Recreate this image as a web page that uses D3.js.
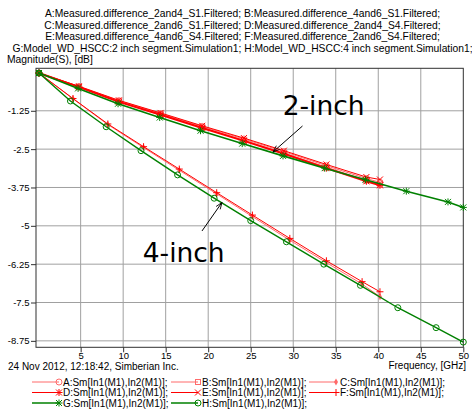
<!DOCTYPE html>
<html>
<head>
<meta charset="utf-8">
<script src="https://cdn.jsdelivr.net/npm/d3@7"></script>
<style>
  body { margin: 0; background: #fff; }
  svg { display: block; font-family: "Liberation Sans", Arial, sans-serif; }
</style>
</head>
<body>
<svg width="472" height="411"></svg>
<script>
const WIDTH = 472;
const HEIGHT = 411;
const PLOT = {left: 36, top: 68.3, right: 463.3, bottom: 347.3};

const titleLines = [
  'A:Measured.difference_2and4_S1.Filtered; B:Measured.difference_4and6_S1.Filtered;',
  'C:Measured.difference_2and6_S1.Filtered; D:Measured.difference_2and4_S4.Filtered;',
  'E:Measured.difference_4and6_S4.Filtered; F:Measured.difference_2and6_S4.Filtered;',
  'G:Model_WD_HSCC:2 inch segment.Simulation1; H:Model_WD_HSCC:4 inch segment.Simulation1;'
];
const yAxisTitle = 'Magnitude(S), [dB]';
const xAxisTitle = 'Frequency, [GHz]';
const stamp = '24 Nov 2012, 12:18:42, Simberian Inc.';

const xTicks = [5, 10, 15, 20, 25, 30, 35, 40, 45, 50];
const yTicks = [-1.25, -2.5, -3.75, -5, -6.25, -7.5, -8.75];
const yTickLabels = ['-1.25', '-2.5', '-3.75', '-5', '-6.25', '-7.5', '-8.75'];

// frequency points (GHz) where the curves carry markers
const freq2in = [0.1, 4.8, 9.5, 14.4, 19.3, 24.2, 28.9, 33.9, 38.6, 40.2];
const freq4in = [0.1, 4.1, 8.2, 12.4, 16.6, 21.0, 25.2, 29.6, 33.9, 38.1, 40.2];
const freqG = [0.1, 4.7, 9.4, 14.3, 19.1, 24.0, 28.8, 33.7, 38.5, 43.3, 48.2, 50];
const freqH = [0.1, 3.8, 8.0, 12.1, 16.4, 20.7, 25.0, 29.2, 33.6, 37.9, 42.3, 46.8, 50];

// magnitudes, dB
const dbA = [-0.02, -0.46, -0.92, -1.34, -1.76, -2.17, -2.58, -3.04, -3.46, -3.58];
const dbB = [-0.02, -0.47, -0.94, -1.36, -1.79, -2.21, -2.63, -3.09, -3.52, -3.66];
const dbC = [-0.02, -0.86, -1.70, -2.45, -3.19, -3.96, -4.70, -5.47, -6.20, -6.90, -7.31];
const dbD = [-0.02, -0.48, -0.96, -1.38, -1.81, -2.23, -2.65, -3.12, -3.55, -3.68];
const dbE = [-0.02, -0.45, -0.91, -1.32, -1.74, -2.14, -2.55, -3.00, -3.41, -3.49];
const dbF = [-0.02, -0.85, -1.68, -2.42, -3.15, -3.92, -4.65, -5.41, -6.14, -6.82, -7.15];
const dbG = [-0.02, -0.52, -1.02, -1.47, -1.90, -2.32, -2.72, -3.12, -3.50, -3.87, -4.22, -4.40];
const dbH = [-0.02, -0.93, -1.77, -2.55, -3.34, -4.10, -4.83, -5.52, -6.25, -6.94, -7.67, -8.32, -8.79];

const legendLabels = ['A', 'B', 'C', 'D', 'E', 'F', 'G', 'H'];
const legendText = 'Sm[In1(M1),In2(M1)];';

// annotations, in chart units [GHz, dB]
const notes = [
  {text: '2-inch', at: [28.76, -1.387], from: [31.09, -1.746], to: [27.62, -2.593]},
  {text: '4-inch', at: [12.30, -6.169], from: [19.27, -5.168], to: [21.62, -4.239]}
];

const LIGHT_RED = '#ff6a6a';
const RED = '#ff0000';
const GREEN = '#008000';

const series = [
  {name: 'A', freq: freq2in, db: dbA, color: LIGHT_RED, width: 1, marker: 'circle'},
  {name: 'B', freq: freq2in, db: dbB, color: LIGHT_RED, width: 1, marker: 'square'},
  {name: 'C', freq: freq4in, db: dbC, color: LIGHT_RED, width: 1, marker: 'diamond'},
  {name: 'D', freq: freq2in, db: dbD, color: RED, width: 2, marker: 'asterisk'},
  {name: 'E', freq: freq2in, db: dbE, color: RED, width: 1, marker: 'cross'},
  {name: 'F', freq: freq4in, db: dbF, color: RED, width: 1, marker: 'plus'},
  {name: 'G', freq: freqG, db: dbG, color: GREEN, width: 1.6, marker: 'asterisk'},
  {name: 'H', freq: freqH, db: dbH, color: GREEN, width: 1.4, marker: 'circle'}
];

const svg = d3.select('svg');

const x = d3.scaleLinear().domain([-0.25, 50]).range([PLOT.left, PLOT.right]);
const y = d3.scaleLinear().domain([0.135, -8.96]).range([PLOT.top, PLOT.bottom]);

// header
svg.append('g')
  .selectAll('text')
  .data(titleLines)
  .join('text')
    .attr('x', 242.5)
    .attr('y', (d, i) => 17 + i * 11.5)
    .attr('text-anchor', 'middle')
    .attr('font-size', 10.3)
    .text(d => d);

svg.append('text')
  .attr('x', 7)
  .attr('y', 63)
  .attr('font-size', 10.3)
  .text(yAxisTitle);

// grid
svg.append('g')
  .attr('stroke', '#a0a0a0')
  .selectAll('line')
  .data(xTicks.slice(0, -1))
  .join('line')
    .attr('x1', d => x(d)).attr('x2', d => x(d))
    .attr('y1', PLOT.top).attr('y2', PLOT.bottom);

svg.append('g')
  .attr('stroke', '#a0a0a0')
  .selectAll('line')
  .data(yTicks)
  .join('line')
    .attr('x1', PLOT.left).attr('x2', PLOT.right)
    .attr('y1', d => y(d)).attr('y2', d => y(d));

// axes
const xAxis = svg.append('g')
  .attr('transform', `translate(0,${PLOT.bottom})`)
  .call(d3.axisBottom(x).tickValues(xTicks).tickSize(5).tickPadding(0).tickFormat(d3.format('d')));
const yAxis = svg.append('g')
  .attr('transform', `translate(${PLOT.left},0)`)
  .call(d3.axisLeft(y).tickValues(yTicks).tickSize(5).tickPadding(1.5)
    .tickFormat((d, i) => yTickLabels[i]));

[xAxis, yAxis].forEach(a => {
  a.select('.domain').remove();
  a.selectAll('line').attr('stroke', '#303030');
  a.selectAll('text').attr('font-size', 9.5).attr('fill', '#000')
    .attr('font-family', '"Liberation Sans", Arial, sans-serif');
});

svg.append('rect')
  .attr('x', PLOT.left).attr('y', PLOT.top)
  .attr('width', PLOT.right - PLOT.left)
  .attr('height', PLOT.bottom - PLOT.top)
  .attr('fill', 'none')
  .attr('stroke', '#303030');

svg.append('text')
  .attr('x', 466)
  .attr('y', 369)
  .attr('text-anchor', 'end')
  .attr('font-size', 10)
  .text(xAxisTitle);

svg.append('text')
  .attr('x', 8)
  .attr('y', 370)
  .attr('font-size', 10)
  .text(stamp);

function drawMarker(g, type, color) {
  const s = 3;
  if (type === 'circle') {
    g.append('circle').attr('r', s).attr('fill', 'none').attr('stroke', color);
  } else if (type === 'square') {
    g.append('rect').attr('x', -2.5).attr('y', -2.5).attr('width', 5).attr('height', 5)
      .attr('fill', 'none').attr('stroke', color);
  } else if (type === 'diamond') {
    g.append('path').attr('d', d3.symbol(d3.symbolDiamond, 14)()).attr('fill', color);
  } else {
    let segs = [];
    if (type === 'plus' || type === 'asterisk') {
      segs.push([-s - 0.5, 0, s + 0.5, 0], [0, -s - 0.5, 0, s + 0.5]);
    }
    if (type === 'cross' || type === 'asterisk') {
      segs.push([-s, -s, s, s], [-s, s, s, -s]);
    }
    g.selectAll('line')
      .data(segs)
      .join('line')
        .attr('x1', d => d[0]).attr('y1', d => d[1])
        .attr('x2', d => d[2]).attr('y2', d => d[3])
        .attr('stroke', color)
        .attr('stroke-width', 1);
  }
}

// curves
const line = d3.line().x(d => x(d[0])).y(d => y(d[1]));
const plot = svg.append('g');

series.forEach(s => {
  const pts = s.freq.map((f, i) => [f, s.db[i]]);
  plot.append('path')
    .datum(pts)
    .attr('d', line)
    .attr('fill', 'none')
    .attr('stroke', s.color)
    .attr('stroke-width', s.width);
  pts.forEach(p => {
    const g = plot.append('g').attr('transform', `translate(${x(p[0])},${y(p[1])})`);
    drawMarker(g, s.marker, s.color);
  });
});

// annotations
const defs = svg.append('defs');
defs.append('marker')
  .attr('id', 'arrow')
  .attr('markerWidth', 10)
  .attr('markerHeight', 10)
  .attr('markerUnits', 'userSpaceOnUse')
  .attr('orient', 'auto')
  .attr('refX', 0)
  .attr('refY', 0)
  .attr('viewBox', '-10 -5 12 10')
  .append('path')
  .attr('d', 'M -8,-3 L 0,0 L -8,3')
  .attr('fill', 'none')
  .attr('stroke', '#000');

notes.forEach(n => {
  svg.append('line')
    .attr('x1', x(n.from[0])).attr('y1', y(n.from[1]))
    .attr('x2', x(n.to[0])).attr('y2', y(n.to[1]))
    .attr('stroke', '#000')
    .attr('marker-end', 'url(#arrow)');
  svg.append('text')
    .attr('x', x(n.at[0]))
    .attr('y', y(n.at[1]))
    .attr('font-family', '"DejaVu Sans", sans-serif')
    .attr('font-size', 26.5)
    .text(n.text);
});

// legend
const legend = svg.append('g');
const colX = [32, 171, 309];
const rowY = [382, 392.5, 403];

series.forEach((s, i) => {
  const cx = colX[i % 3];
  const cy = rowY[Math.floor(i / 3)];
  const g = legend.append('g');
  g.append('line')
    .attr('x1', cx).attr('x2', cx + 27)
    .attr('y1', cy).attr('y2', cy)
    .attr('stroke', s.color)
    .attr('stroke-width', s.name === 'G' || s.name === 'H' ? 1.5 : 1);
  drawMarker(g.append('g').attr('transform', `translate(${cx + 27},${cy})`), s.marker, s.color);
  g.append('text')
    .attr('x', cx + 31)
    .attr('y', cy + 3.5)
    .attr('font-size', 10)
    .text(legendLabels[i] + ':' + legendText);
});
</script>
</body>
</html>
